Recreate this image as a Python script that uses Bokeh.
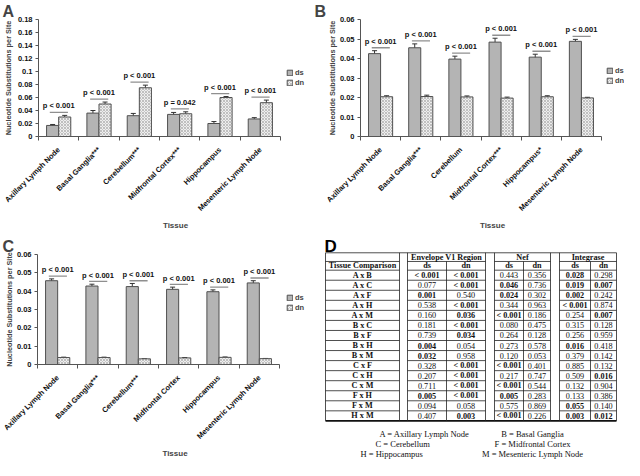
import math
from bokeh.plotting import figure
from bokeh.models import (ColumnDataSource, FixedTicker, CustomJSTickFormatter, Whisker, TeeHead,
                          Legend, LegendItem, Range1d)
from bokeh.layouts import row, column
from bokeh.embed import file_html
from bokeh.resources import INLINE
from bokeh.core.properties import value

# ---------------- data: panel A ----------------
tissues_a = ["Axillary Lymph Node", "Basal Ganglia***", "Cerebellum***",
             "Midfrontal Cortex***", "Hippocampus", "Mesenteric Lymph Node"]
ds_a = [0.017, 0.036, 0.032, 0.034, 0.020, 0.027]
ds_err_a = [0.0015, 0.004, 0.0035, 0.003, 0.003, 0.002]
dn_a = [0.030, 0.050, 0.075, 0.035, 0.060, 0.052]
dn_err_a = [0.0025, 0.003, 0.004, 0.003, 0.0015, 0.004]
p_a = ["p < 0.001", "p < 0.001", "p < 0.001", "p = 0.042", "p < 0.001", "p < 0.001"]
yticks_a = [0, 0.02, 0.04, 0.06, 0.08, 0.1, 0.12, 0.14, 0.16, 0.18]

# ---------------- data: panel B ----------------
tissues_b = ["Axillary Lymph Node", "Basal Ganglia***", "Cerebellum",
             "Midfrontal Cortex***", "Hippocampus*", "Mesenteric Lymph Node"]
ds_b = [0.0425, 0.0455, 0.0397, 0.0484, 0.0407, 0.0488]
ds_err_b = [0.0015, 0.002, 0.0015, 0.002, 0.0015, 0.001]
dn_b = [0.0204, 0.0205, 0.0203, 0.0197, 0.0204, 0.0198]
dn_err_b = [0.0005, 0.0007, 0.0005, 0.0005, 0.0005, 0.0003]
p_b = ["p < 0.001", "p < 0.001", "p < 0.001", "p < 0.001", "p < 0.001", "p < 0.001"]
yticks_b = [0, 0.01, 0.02, 0.03, 0.04, 0.05, 0.06]

# ---------------- data: panel C ----------------
tissues_c = ["Axillary Lymph Node", "Basal Ganglia***", "Cerebellum***",
             "Midfrontal Cortex", "Hippocampus", "Mesenteric Lymph Node"]
ds_c = [0.0457, 0.0428, 0.0425, 0.0410, 0.0397, 0.0445]
ds_err_c = [0.0010, 0.0010, 0.0017, 0.0012, 0.0010, 0.0012]
dn_c = [0.0038, 0.0038, 0.0031, 0.0036, 0.0039, 0.0032]
dn_err_c = [0.0002, 0.0002, 0.0001, 0.0002, 0.0002, 0.0001]
p_c = ["p < 0.001", "p < 0.001", "p < 0.001", "p < 0.001", "p < 0.001", "p < 0.001"]
yticks_c = [0, 0.01, 0.02, 0.03, 0.04, 0.05, 0.06]

# ---------------- data: panel D (table) ----------------
comparisons = ["A x B", "A x C", "A x F", "A x H", "A x M", "B x C", "B x F", "B x H",
               "B x M", "C x F", "C x H", "C x M", "F x H", "F x M", "H x M"]
env_ds = ["< 0.001", "0.077", "0.001", "0.538", "0.160", "0.181", "0.739", "0.004",
          "0.032", "0.328", "0.207", "0.711", "0.005", "0.094", "0.407"]
env_ds_bold = [1, 0, 1, 0, 0, 0, 0, 1, 1, 0, 0, 0, 1, 0, 0]
env_dn = ["< 0.001", "< 0.001", "0.540", "< 0.001", "0.036", "< 0.001", "0.034", "0.054",
          "0.958", "< 0.001", "< 0.001", "< 0.001", "< 0.001", "0.058", "0.003"]
env_dn_bold = [1, 1, 0, 1, 1, 1, 1, 0, 0, 1, 1, 1, 1, 0, 1]
nef_ds = ["0.443", "0.046", "0.024", "0.344", "< 0.001", "0.080", "0.264", "0.273",
          "0.120", "< 0.001", "0.217", "< 0.001", "0.005", "0.575", "< 0.001"]
nef_ds_bold = [0, 1, 1, 0, 1, 0, 0, 0, 0, 1, 0, 1, 1, 0, 1]
nef_dn = ["0.356", "0.736", "0.302", "0.963", "0.186", "0.475", "0.128", "0.578",
          "0.053", "0.401", "0.747", "0.544", "0.283", "0.869", "0.226"]
nef_dn_bold = [0, 0, 0, 0, 0, 0, 0, 0, 0, 0, 0, 0, 0, 0, 0]
int_ds = ["0.028", "0.019", "0.002", "< 0.001", "0.254", "0.315", "0.256", "0.016",
          "0.379", "0.885", "0.509", "0.132", "0.133", "0.055", "0.003"]
int_ds_bold = [1, 1, 1, 1, 0, 0, 0, 1, 0, 0, 0, 0, 0, 1, 1]
int_dn = ["0.298", "0.007", "0.242", "0.874", "0.007", "0.128", "0.959", "0.418",
          "0.142", "0.132", "0.016", "0.904", "0.386", "0.140", "0.012"]
int_dn_bold = [0, 1, 0, 0, 1, 0, 0, 0, 0, 0, 1, 0, 0, 0, 1]
group_names = ["Envelope V1 Region", "Nef", "Integrase"]
key_left = ["A = Axillary Lymph Node", "C = Cerebellum", "H = Hippocampus"]
key_right = ["B = Basal Ganglia", "F = Midfrontal Cortex", "M = Mesenteric Lymph Node"]

# ---------------- styles ----------------
SANS = "Liberation Sans"
SERIF = "Liberation Serif"
DS_FILL = "#b4b4b4"
DN_FILL = "#eeeeee"
BAR_LINE = "#505050"
AXIS = "#555555"


def bar_panel(letter, tissues, ds, ds_err, dn, dn_err, plabels, yticks,
              W, H, fl, fr, ft, fb, ylab_standoff, leg_x, leg_top):
    n = len(tissues)
    ymax = yticks[-1]
    fw, fh = fr - fl, fb - ft
    x_end = n * (W - fl) / fw          # frame reaches the right edge (room for legend)
    p = figure(width=W, height=H, x_range=Range1d(0, x_end), y_range=Range1d(0, ymax),
               output_backend="svg", toolbar_location=None, frame_align=False,
               min_border_left=fl, min_border_right=0,
               min_border_top=ft, min_border_bottom=H - fb)
    p.outline_line_color = None
    p.xgrid.visible = False
    p.ygrid.visible = False
    p.title.text = letter
    p.title.align = "left"
    p.title.offset = 2 - fl
    p.title.standoff = 0
    p.title.text_font = SANS
    p.title.text_font_style = "bold"
    p.title.text_font_size = "16px"

    centers = [i + 0.5 for i in range(n)]
    src = ColumnDataSource(dict(
        xds=[c - 0.15 for c in centers], xdn=[c + 0.15 for c in centers],
        ds=ds, dn=dn,
        ds_up=[v + e for v, e in zip(ds, ds_err)], ds_lo=[v - e for v, e in zip(ds, ds_err)],
        dn_up=[v + e for v, e in zip(dn, dn_err)], dn_lo=[v - e for v, e in zip(dn, dn_err)],
    ))
    r_ds = p.vbar(x="xds", top="ds", width=0.3, source=src, fill_color=DS_FILL,
                  line_color=BAR_LINE, line_width=1)
    r_dn = p.vbar(x="xdn", top="dn", width=0.3, source=src, fill_color=DN_FILL,
                  line_color=BAR_LINE, line_width=1, hatch_pattern="diagonal_cross",
                  hatch_scale=3, hatch_color="#a0a0a0", hatch_weight=0.6)
    for base, up, lo in (("xds", "ds_up", "ds_lo"), ("xdn", "dn_up", "dn_lo")):
        w = Whisker(source=src, base=base, upper=up, lower=lo, line_color="#333333",
                    line_width=1,
                    upper_head=TeeHead(size=5, line_color="#333333", line_width=1),
                    lower_head=TeeHead(size=5, line_color="#333333", line_width=1))
        p.add_layout(w)

    # p-value annotations
    dpp = ymax / fh
    tops = [max(a + b, c + d) for a, b, c, d in zip(ds, ds_err, dn, dn_err)]
    yl = [t + 3 * dpp for t in tops]
    p.segment(x0=[c - 0.22 for c in centers], x1=[c + 0.23 for c in centers],
              y0=yl, y1=yl, line_color="#8f8f8f", line_width=1.3)
    p.text(x=centers, y=[y + 2 * dpp for y in yl], text=plabels, text_align="center",
           text_baseline="bottom", text_font=value(SANS), text_font_style="bold",
           text_font_size="7.5px", text_color="#111111")

    # x axis
    xa = p.xaxis[0]
    xa.bounds = (0, n)
    xa.ticker = FixedTicker(ticks=centers, minor_ticks=list(range(n + 1)))
    xa.formatter = CustomJSTickFormatter(args=dict(labels=tissues),
                                         code="return labels[Math.floor(tick)];")
    xa.major_label_orientation = math.pi / 4
    xa.major_tick_line_color = None
    xa.major_tick_out = 3
    xa.major_tick_in = 0
    xa.minor_tick_out = 4
    xa.minor_tick_in = 0
    xa.minor_tick_line_color = AXIS
    xa.axis_line_color = AXIS
    xa.major_label_text_font = SANS
    xa.major_label_text_font_style = "bold"
    xa.major_label_text_font_size = "7.5px"
    xa.major_label_text_color = "#111111"
    xa.major_label_standoff = 8
    xa.axis_label = "Tissue"
    xa.axis_label_text_font = SANS
    xa.axis_label_text_font_style = "bold"
    xa.axis_label_text_font_size = "8px"
    xa.axis_label_standoff = 2

    # y axis
    ya = p.yaxis[0]
    ya.ticker = FixedTicker(ticks=yticks)
    ya.formatter = CustomJSTickFormatter(code="return String(parseFloat(tick.toFixed(4)));")
    ya.major_tick_out = 3
    ya.major_tick_in = 0
    ya.minor_tick_line_color = None
    ya.major_tick_line_color = AXIS
    ya.axis_line_color = AXIS
    ya.major_label_text_font = SANS
    ya.major_label_text_font_style = "bold"
    ya.major_label_text_font_size = "7.5px"
    ya.major_label_text_color = "#111111"
    ya.major_label_standoff = 3
    ya.axis_label = "Nucleotide Substitutions per Site"
    ya.axis_label_text_font = SANS
    ya.axis_label_text_font_style = "bold"
    ya.axis_label_text_font_size = "7.3px"
    ya.axis_label_standoff = ylab_standoff

    leg = Legend(items=[LegendItem(label="ds", renderers=[r_ds]),
                        LegendItem(label="dn", renderers=[r_dn])],
                 location=(leg_x - fl, fb - (leg_top + 19)), orientation="vertical",
                 border_line_color=None, background_fill_alpha=0, padding=0, margin=0,
                 spacing=1, glyph_width=7, glyph_height=7, label_standoff=2, label_height=9,
                 label_text_font=SANS, label_text_font_style="bold",
                 label_text_font_size="7.5px")
    p.add_layout(leg)
    return p


W1, H1 = 312, 232
W2, H2 = 312, 228

pA = bar_panel("A", tissues_a, ds_a, ds_err_a, dn_a, dn_err_a, p_a, yticks_a,
               W1, H1, 38, 280, 18, 136, 2, 286, 68)
pB = bar_panel("B", tissues_b, ds_b, ds_err_b, dn_b, dn_err_b, p_b, yticks_b,
               W1, H1, 48, 289, 18, 136, 0, 294, 66)
pC = bar_panel("C", tissues_c, ds_c, ds_err_c, dn_c, dn_err_c, p_c, yticks_c,
               W2, H2, 37, 279, 22, 143, 0, 286, 72)

# ---------------- panel D: table ----------------
# positions below are given top-down (reference layout units); Y() flips them
DH = 236.0
def Y(v):
    return DH - v

pD = figure(width=W2, height=H2, x_range=Range1d(0, 312), y_range=Range1d(0, DH),
            x_axis_type=None, y_axis_type=None, output_backend="svg",
            toolbar_location=None, frame_align=False,
            min_border_left=0, min_border_right=0, min_border_top=0, min_border_bottom=0)
pD.outline_line_color = None

xL, xTC = 13, 87
groups = [(95, 134, 173), (182, 211, 238), (247, 278, 304)]
yT, yH1, yH2 = 21, 30, 39
row_h = 10.4
nrows = len(comparisons)
yB = yH2 + nrows * row_h
row_lines = [yH2 + k * row_h for k in range(1, nrows)]

hx0, hx1, hy = [], [], []
def hline(x0, x1, y):
    hx0.append(x0); hx1.append(x1); hy.append(Y(y))
hline(xL, groups[-1][2], yT)
for y in [yH1, yH2] + row_lines:
    hline(xL, xTC, y)
    for g in groups:
        hline(g[0], g[2], y)
pD.segment(x0=hx0, x1=hx1, y0=hy, y1=hy, line_color="#222222", line_width=0.8)
pD.segment(x0=[xL], x1=[groups[-1][2]], y0=[Y(yB)], y1=[Y(yB)], line_color="#111111",
           line_width=1.6)

vx, vy0, vy1 = [], [], []
for x in [xL, xTC] + [g[0] for g in groups] + [g[2] for g in groups]:
    vx.append(x); vy0.append(Y(yT)); vy1.append(Y(yB))
for g in groups:
    vx.append(g[1]); vy0.append(Y(yH1)); vy1.append(Y(yB))
pD.segment(x0=vx, x1=vx, y0=vy0, y1=vy1, line_color="#222222", line_width=0.8)

row_y = [Y(yH2 + (k + 0.5) * row_h) for k in range(nrows)]

TXT = dict(text_align="center", text_baseline="middle", text_color="#111111")
pD.text(x=[(g[0] + g[2]) / 2 for g in groups], y=[Y((yT + yH1) / 2)] * 3, text=group_names,
        text_font=value(SERIF), text_font_style="bold", text_font_size="8.2px", **TXT)
sub_x, sub_t = [(xL + xTC) / 2], ["Tissue Comparison"]
for g in groups:
    sub_x += [(g[0] + g[1]) / 2, (g[1] + g[2]) / 2]
    sub_t += ["ds", "dn"]
pD.text(x=sub_x, y=[Y((yH1 + yH2) / 2)] * len(sub_x), text=sub_t,
        text_font=value(SERIF), text_font_style="bold", text_font_size="8.2px", **TXT)
pD.text(x=[(xL + xTC) / 2] * nrows, y=row_y, text=comparisons,
        text_font=value(SERIF), text_font_style="bold", text_font_size="8.2px", **TXT)

cols = [(env_ds, env_ds_bold, (groups[0][0] + groups[0][1]) / 2),
        (env_dn, env_dn_bold, (groups[0][1] + groups[0][2]) / 2),
        (nef_ds, nef_ds_bold, (groups[1][0] + groups[1][1]) / 2),
        (nef_dn, nef_dn_bold, (groups[1][1] + groups[1][2]) / 2),
        (int_ds, int_ds_bold, (groups[2][0] + groups[2][1]) / 2),
        (int_dn, int_dn_bold, (groups[2][1] + groups[2][2]) / 2)]
bx, by, bt, nx, ny, nt = [], [], [], [], [], []
for vals, bolds, cx in cols:
    for v, b, y in zip(vals, bolds, row_y):
        if b:
            bx.append(cx); by.append(y); bt.append(v)
        else:
            nx.append(cx); ny.append(y); nt.append(v)
pD.text(x=bx, y=by, text=bt, text_font=value(SERIF), text_font_style="bold",
        text_font_size="8.2px", **TXT)
pD.text(x=nx, y=ny, text=nt, text_font=value(SERIF), text_font_style="normal",
        text_font_size="8.2px", **TXT)

key_y = [Y(209), Y(219), Y(229)]
pD.text(x=[67, 63, 48], y=key_y, text=key_left, text_align="left", text_baseline="middle",
        text_font=value(SERIF), text_font_size="8.5px", text_color="#111111")
pD.text(x=[220] * 3, y=key_y, text=key_right, text_align="center", text_baseline="middle",
        text_font=value(SERIF), text_font_size="8.5px", text_color="#111111")
pD.text(x=[12], y=[Y(15)], text=["D"], text_align="left", text_baseline="alphabetic",
        text_font=value(SANS), text_font_style="bold", text_font_size="17px",
        text_color="#000000")

layout = column(row(pA, pB), row(pC, pD))
open("out.html", "w").write(file_html(layout, INLINE))
